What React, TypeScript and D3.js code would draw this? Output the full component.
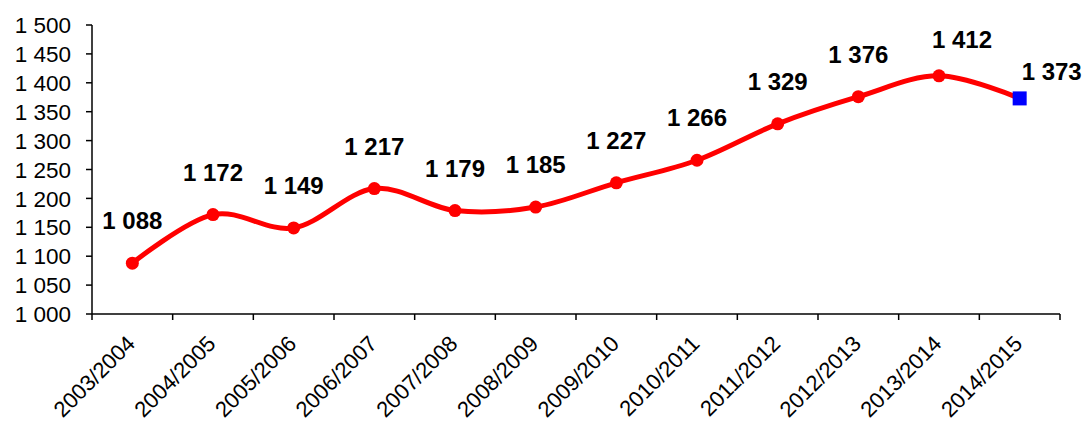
import React from "react";
import * as d3 from "d3";

const categories = [
  "2003/2004", "2004/2005", "2005/2006", "2006/2007", "2007/2008", "2008/2009",
  "2009/2010", "2010/2011", "2011/2012", "2012/2013", "2013/2014", "2014/2015",
];
const values = [1088, 1172, 1149, 1217, 1179, 1185, 1227, 1266, 1329, 1376, 1412, 1373];
const yTicks = [1000, 1050, 1100, 1150, 1200, 1250, 1300, 1350, 1400, 1450, 1500];

const W = 1084;
const H = 423;
const M = { left: 92, right: 1060, top: 25, bottom: 314 };
const FONT = "'Liberation Sans', Arial, sans-serif";

const fmt = (v: number) => {
  const s = String(v);
  return s.length > 3 ? s.slice(0, s.length - 3) + " " + s.slice(-3) : s;
};

// label nudges (layout only) for the last two points
const labelNudge: Record<string, [number, number]> = {
  "2013/2014": [23, 6],
  "2014/2015": [32, 16],
};

export default function App() {
  const x = d3.scaleBand<string>().domain(categories).range([M.left, M.right]).padding(0);
  const y = d3.scaleLinear().domain([1000, 1500]).range([M.bottom, M.top]);
  const cx = (c: string) => (x(c) as number) + x.bandwidth() / 2;
  const pts: [number, number][] = categories.map((c, i) => [cx(c), y(values[i])]);
  const line = d3.line().curve(d3.curveCardinal.tension(0))(pts) as string;
  const boundaries = categories.map((c) => x(c) as number).concat([M.right]);
  const last = categories.length - 1;

  return (
    <svg width={W} height={H} style={{ position: "absolute", left: 0, top: 0, background: "#fff" }}>
      {/* Y axis */}
      <line x1={M.left} x2={M.left} y1={M.top} y2={M.bottom} stroke="#000" strokeWidth={1.5} />
      {yTicks.map((t) => (
        <g key={t}>
          <line x1={M.left - 6} x2={M.left} y1={y(t)} y2={y(t)} stroke="#000" strokeWidth={1.5} />
          <text x={71} y={y(t)} dy="0.36em" textAnchor="end" fontFamily={FONT} fontSize={22.5} fill="#000">
            {fmt(t)}
          </text>
        </g>
      ))}
      {/* X axis */}
      <line x1={M.left} x2={M.right} y1={M.bottom} y2={M.bottom} stroke="#000" strokeWidth={1.5} />
      {boundaries.map((b, i) => (
        <line key={i} x1={b} x2={b} y1={M.bottom} y2={M.bottom + 6} stroke="#000" strokeWidth={1.5} />
      ))}
      {categories.map((c) => (
        <text
          key={c}
          transform={`translate(${cx(c) + 4},${M.bottom + 31}) rotate(-45)`}
          textAnchor="end"
          fontFamily={FONT}
          fontSize={22}
          fill="#000"
        >
          {c}
        </text>
      ))}
      {/* line */}
      <path d={line} fill="none" stroke="#FF0000" strokeWidth={5} strokeLinejoin="round" />
      {pts.map(([px, py], i) =>
        i === last ? (
          <rect key={i} x={px - 7} y={py - 7} width={14} height={14} fill="#0000FF" />
        ) : (
          <circle key={i} cx={px} cy={py} r={6.5} fill="#FF0000" />
        )
      )}
      {/* data labels */}
      {pts.map(([px, py], i) => {
        const n = labelNudge[categories[i]] || [0, 0];
        return (
          <text
            key={"l" + i}
            x={px + n[0]}
            y={py - 34 + n[1]}
            textAnchor="middle"
            fontFamily={FONT}
            fontSize={24}
            fontWeight="bold"
            fill="#000"
          >
            {fmt(values[i])}
          </text>
        );
      })}
    </svg>
  );
}
